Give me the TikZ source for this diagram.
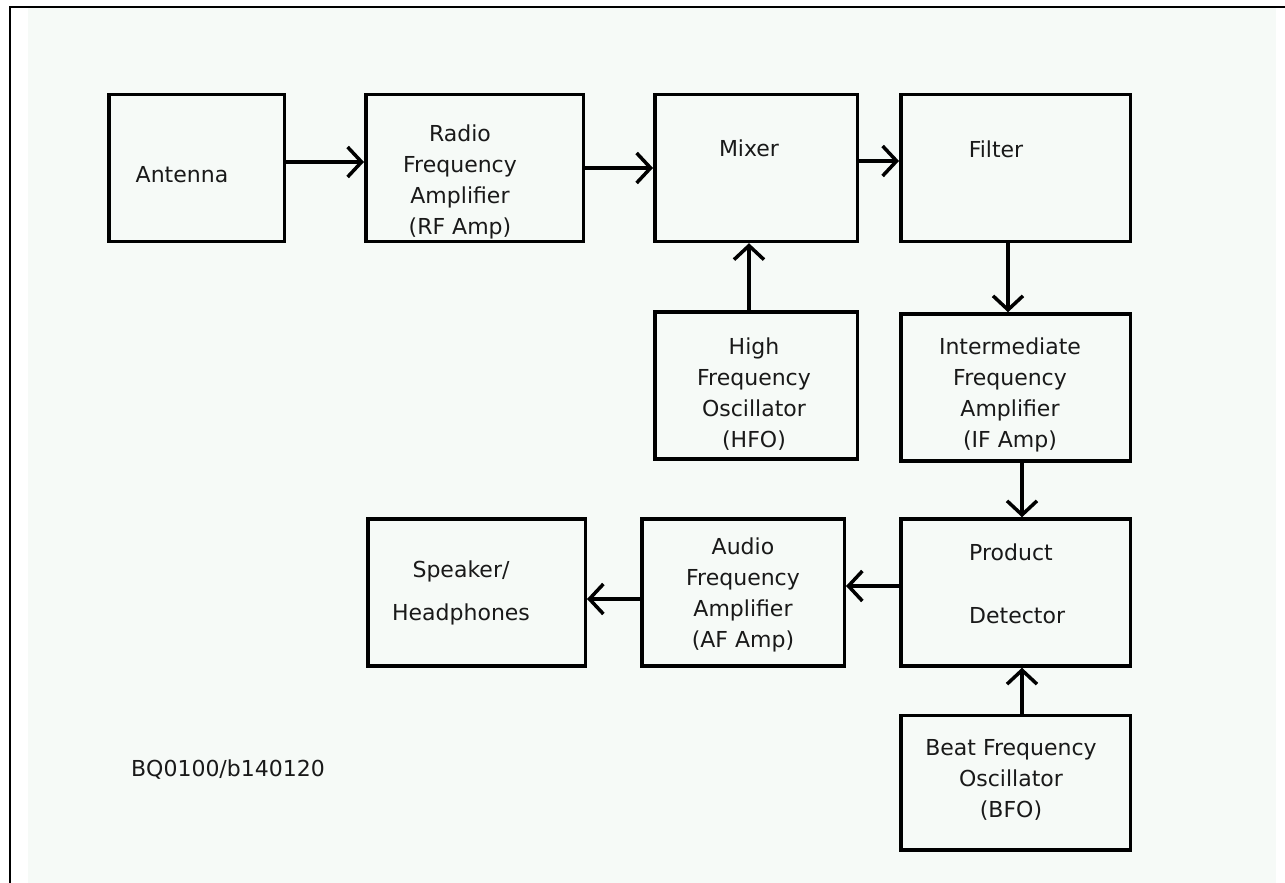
\documentclass[tikz,border=0pt]{standalone}
\usepackage{fontspec}
\setmainfont{DejaVu Sans}
\usetikzlibrary{positioning, arrows.meta}
\definecolor{paper}{RGB}{246,250,247}
\definecolor{ink}{RGB}{25,25,25}
\tikzset{
	stage/.style={rectangle, draw=black, line width=3.5pt, minimum width=#1, minimum height=147pt, inner sep=0pt},
	stage/.default=203pt,
	blocktext/.style={align=center, inner sep=0pt, text=ink, font=\fontsize{22}{31}\selectfont},
}

\begin{document}
\begin{tikzpicture}[x=1pt, y=1pt]
	\tikzstyle{signal}=[draw, line width=3.5pt, -{Straight Barb[length=14pt,width=30pt]}]
	\useasboundingbox (0,0) rectangle (1285,883);
	\fill[paper] (28,0) rectangle (1276,875);
	\draw[line width=2.5pt] (10,0) -- (10,876) -- (1285,876);

	\node[stage=175.5pt] (antenna) at (196.5,715) {};
	\node[stage=217.5pt, right=78pt of antenna] (rfamp) {};
	\node[stage=202.5pt, right=68pt of rfamp] (mixer) {};
	\node[stage=229.5pt, right=40pt of mixer] (filter) {};
	\node[stage=202.5pt, below=67pt of mixer] (hfo) {};
	\node[stage=229.5pt, below=69pt of filter] (ifamp) {};
	\node[stage=229.5pt, below=54.5pt of ifamp] (detector) {};
	\node[stage=202.5pt, left=53pt of detector] (afamp) {};
	\node[stage=217.5pt, left=53pt of afamp] (speaker) {};
	\node[stage=229.5pt, minimum height=134.5pt, below=46pt of detector] (bfo) {};

	\node[blocktext] (antenna-text) at ([xshift=-14.5pt,yshift=-7pt]antenna.center) {Antenna};
	\node[blocktext] (rfamp-text) at ([xshift=-14.5pt,yshift=-14pt]rfamp.center) {Radio\\Frequency\\Amplifier\\(RF Amp)};
	\node[blocktext] (mixer-text) at ([xshift=-7pt,yshift=20pt]mixer.center) {Mixer};
	\node[blocktext] (filter-text) at ([xshift=-19.5pt,yshift=19pt]filter.center) {Filter};
	\node[blocktext] (hfo-text) at ([xshift=-2pt,yshift=-8.5pt]hfo.center) {High\\Frequency\\Oscillator\\(HFO)};
	\node[blocktext] (ifamp-text) at ([xshift=-5.5pt,yshift=-7.5pt]ifamp.center) {Intermediate\\Frequency\\Amplifier\\(IF Amp)};
	\node[blocktext, align=left, anchor=west] (detector-text) at ([xshift=-46.5pt,yshift=9pt]detector.center) {Product\\[32pt]Detector};
	\node[blocktext] (afamp-text) at ([yshift=-2.5pt]afamp.center) {Audio\\Frequency\\Amplifier\\(AF Amp)};
	\node[blocktext] (speaker-text) at ([xshift=-15.5pt]speaker.center) {Speaker/\\[12pt]Headphones};
	\node[blocktext] (bfo-text) at ([xshift=-4.5pt,yshift=3pt]bfo.center) {Beat Frequency\\Oscillator\\(BFO)};
	\node[blocktext] (drawing-id) at (228,113) {BQ0100/b140120};

	\path[signal] ([yshift=6pt]antenna.east) -- ([yshift=6pt]rfamp.west);
	\path[signal] (rfamp.east) -- (mixer.west);
	\path[signal] ([yshift=7pt]mixer.east) -- ([yshift=7pt]filter.west);
	\path[signal] ([xshift=-7pt]hfo.north) -- ([xshift=-7pt]mixer.south);
	\path[signal] ([xshift=-7.5pt]filter.south) -- ([xshift=-7.5pt]ifamp.north);
	\path[signal] ([xshift=6.5pt]ifamp.south) -- ([xshift=6.5pt]detector.north);
	\path[signal] ([yshift=6.5pt]detector.west) -- ([yshift=6.5pt]afamp.east);
	\path[signal] ([yshift=-6.5pt]afamp.west) -- ([yshift=-6.5pt]speaker.east);
	\path[signal] ([xshift=6.5pt]bfo.north) -- ([xshift=6.5pt]detector.south);
\end{tikzpicture}
\end{document}
